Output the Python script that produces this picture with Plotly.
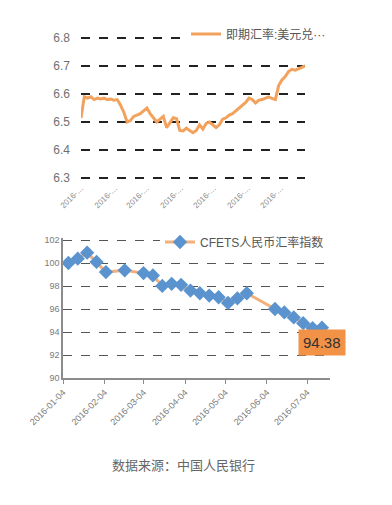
import pandas as pd
import plotly.graph_objects as go

# ---- Top chart: spot rate USD/CNY ----
spot_start = "2016-01-04"
spot_values = [6.514, 6.59, 6.585, 6.59, 6.58, 6.585, 6.582, 6.585, 6.58, 6.582,
               6.578, 6.58, 6.56, 6.535, 6.50, 6.505, 6.52, 6.525, 6.53, 6.54,
               6.55, 6.53, 6.515, 6.50, 6.51, 6.52, 6.48, 6.50, 6.515, 6.512,
               6.47, 6.468, 6.478, 6.47, 6.462, 6.47, 6.49, 6.475, 6.495, 6.50,
               6.49, 6.48, 6.49, 6.51, 6.515, 6.525, 6.53, 6.54, 6.55, 6.56,
               6.57, 6.585, 6.58, 6.568, 6.578, 6.58, 6.585, 6.59, 6.584, 6.58,
               6.63, 6.65, 6.662, 6.68, 6.688, 6.685, 6.69, 6.695, 6.70]
spot_dates = pd.date_range(spot_start, periods=len(spot_values), freq="3D")
spot_name = "即期汇率:美元兑···"
spot_yticks = [6.3, 6.4, 6.5, 6.6, 6.7, 6.8]

# ---- Bottom chart: CFETS RMB index ----
cfets_dates = ["2016-01-08", "2016-01-15", "2016-01-22", "2016-01-29", "2016-02-05",
               "2016-02-19", "2016-03-04", "2016-03-11", "2016-03-18", "2016-03-25",
               "2016-04-01", "2016-04-08", "2016-04-15", "2016-04-22", "2016-04-29",
               "2016-05-06", "2016-05-13", "2016-05-20", "2016-06-10", "2016-06-17",
               "2016-06-24", "2016-07-01", "2016-07-08", "2016-07-15"]
cfets_values = [100.0, 100.38, 100.9, 100.09, 99.21, 99.36, 99.12, 98.92, 98.01, 98.19,
                98.10, 97.6, 97.37, 97.17, 97.02, 96.53, 96.93, 97.37, 96.0, 95.7,
                95.27, 94.77, 94.34, 94.38]
cfets_name = "CFETS人民币汇率指数"
month_ticks = ["2016-01-04", "2016-02-04", "2016-03-04", "2016-04-04",
               "2016-05-04", "2016-06-04", "2016-07-04"]
cfets_yticks = [90, 92, 94, 96, 98, 100, 102]
source_text = "数据来源：中国人民银行"

FONT = "Liberation Sans, Noto Sans CJK SC, sans-serif"
W, H = 392, 505

def fy(px):
    return 1 - px / H

fig = go.Figure()
fig.add_trace(go.Scatter(x=spot_dates, y=spot_values, mode="lines", name=spot_name,
                         line=dict(color="#F2A25C", width=3),
                         xaxis="x", yaxis="y", legend="legend"))
fig.add_trace(go.Scatter(x=cfets_dates, y=cfets_values, mode="lines+markers", name=cfets_name,
                         line=dict(color="#F4B07A", width=3),
                         marker=dict(symbol="diamond", size=11, color="#5B93CF"),
                         xaxis="x2", yaxis="y2", legend="legend2"))

fig.add_annotation(x=cfets_dates[-1], y=cfets_values[-1], xref="x2", yref="y2",
                   text=f"{cfets_values[-1]:.2f}", showarrow=False,
                   xanchor="center", yanchor="top", yshift=-1,
                   bgcolor="#F29247", borderpad=4,
                   font=dict(family=FONT, size=15, color="#333333"))
fig.add_annotation(x=183 / W, y=fy(465), xref="paper", yref="paper",
                   text=source_text, showarrow=False, xanchor="center", yanchor="middle",
                   font=dict(family=FONT, size=13, color="#666666"))

fig.update_layout(
    width=W, height=H, margin=dict(l=0, r=0, t=0, b=0),
    paper_bgcolor="white", plot_bgcolor="white",
    font=dict(family=FONT, color="#595959"),
    xaxis=dict(domain=[81 / W, 305 / W], range=[spot_dates[0], spot_dates[-1]],
               tickvals=month_ticks, ticktext=["2016-…"] * len(month_ticks),
               tickangle=-45, tickfont=dict(size=8, color="#8a8a8a"),
               showgrid=False, showline=False, zeroline=False, ticks="",
               automargin=False),
    yaxis=dict(domain=[fy(180.8), fy(35.2)], range=[6.29, 6.81], tickvals=spot_yticks,
               ticktext=[f"{v:.1f}" for v in spot_yticks],
               tickfont=dict(size=12, color="#707070"),
               showgrid=True, gridcolor="#222222", gridwidth=2, griddash="dash",
               zeroline=False, showline=False, ticks="", ticklabelstandoff=10,
               automargin=False),
    xaxis2=dict(domain=[63 / W, 330 / W], range=["2016-01-04", "2016-07-21"],
                tickvals=month_ticks, ticktext=month_ticks, tickangle=-45,
                tickfont=dict(size=9, color="#7a7a7a"),
                showgrid=False, showline=True, linecolor="#8c8c8c", linewidth=1.5,
                ticks="outside", ticklen=4, tickcolor="#8c8c8c", zeroline=False,
                anchor="y2", automargin=False),
    yaxis2=dict(domain=[fy(378), fy(237.7)], range=[90, 102.2], tickvals=cfets_yticks,
                tickfont=dict(size=9, color="#7a7a7a"),
                showgrid=True, gridcolor="#555555", gridwidth=1.2, griddash="dash",
                showline=True, linecolor="#8c8c8c", linewidth=1.5, zeroline=False,
                ticks="", anchor="x2", automargin=False),
    legend=dict(x=186 / W, y=fy(34), xanchor="left", yanchor="middle",
                bgcolor="white", font=dict(size=12, color="#555555"),
                itemwidth=30, tracegroupgap=0),
    legend2=dict(x=160 / W, y=fy(242), xanchor="left", yanchor="middle",
                 bgcolor="white", font=dict(size=12, color="#555555"),
                 itemwidth=30, tracegroupgap=0),
    showlegend=True,
)

fig.write_html("out.html", config={"displayModeBar": False},
               post_script="document.body.style.margin='0';document.body.style.overflow='hidden';")
